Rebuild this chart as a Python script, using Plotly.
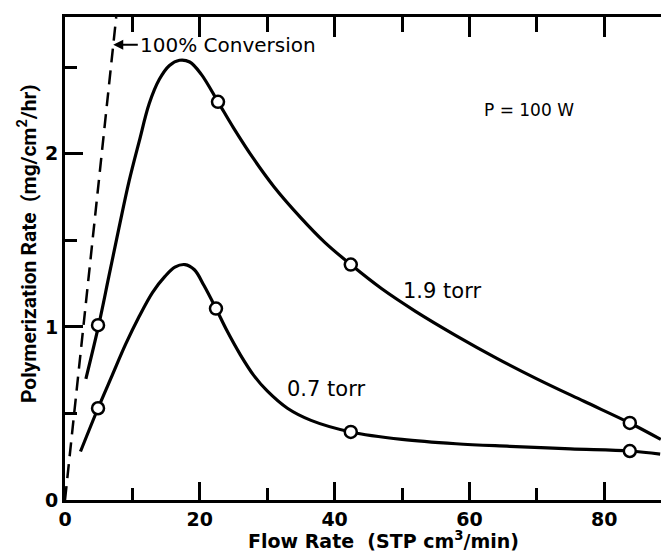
import plotly.graph_objects as go

# ---- data ----
# 1.9 torr smooth curve
c19_x = [3.1, 5.0, 6.5, 8.0, 9.5, 11.0, 12.5, 14.0, 15.5, 17.0, 18.5, 20.2, 22.7, 25.0, 28.0,
         31.0, 35.0, 38.5, 42.4, 47.0, 52.0, 58.0, 64.0, 70.0, 77.0, 83.8, 88.4]
c19_y = [0.70, 1.01, 1.29, 1.57, 1.84, 2.07, 2.29, 2.43, 2.51, 2.54, 2.53, 2.46, 2.30, 2.15, 1.97,
         1.81, 1.63, 1.49, 1.36, 1.22, 1.09, 0.95, 0.82, 0.70, 0.57, 0.445, 0.35]
# 1.9 torr measured points
p19_x = [4.9, 22.7, 42.4, 83.8]
p19_y = [1.01, 2.30, 1.36, 0.445]

# 0.7 torr smooth curve
c07_x = [2.3, 4.9, 7.0, 9.0, 11.0, 13.0, 14.8, 16.3, 17.8, 19.2, 20.6, 22.4, 24.0, 26.0, 28.0,
         30.0, 33.0, 36.5, 42.4, 50.0, 58.0, 66.0, 75.0, 83.8, 88.3]
c07_y = [0.28, 0.53, 0.72, 0.90, 1.06, 1.20, 1.29, 1.345, 1.36, 1.33, 1.24, 1.106, 0.98, 0.84, 0.72,
         0.63, 0.53, 0.46, 0.393, 0.35, 0.325, 0.31, 0.295, 0.283, 0.265]
# 0.7 torr measured points
p07_x = [4.9, 22.4, 42.4, 83.8]
p07_y = [0.53, 1.106, 0.393, 0.283]

# 100 % conversion line
conv_x = [0.0, 7.6]
conv_y = [0.0, 2.79]

x_ticks = [0, 20, 40, 60, 80]
y_ticks = [0, 1, 2]

FONT = "DejaVu Sans"
BLK = "black"

fig = go.Figure()
fig.add_trace(go.Scatter(x=conv_x, y=conv_y, mode="lines",
                         line=dict(color=BLK, width=2.5, dash="14px,8px")))
fig.add_trace(go.Scatter(x=c19_x, y=c19_y, mode="lines",
                         line=dict(color=BLK, width=3.2, shape="spline", smoothing=1.0)))
fig.add_trace(go.Scatter(x=c07_x, y=c07_y, mode="lines",
                         line=dict(color=BLK, width=3.2, shape="spline", smoothing=1.0)))
for px_, py_ in ((p19_x, p19_y), (p07_x, p07_y)):
    fig.add_trace(go.Scatter(x=px_, y=py_, mode="markers",
                             marker=dict(symbol="circle", size=12, color="white",
                                         line=dict(color=BLK, width=2.5))))
# invisible trace on mirrored axes
fig.add_trace(go.Scatter(x=conv_x, y=conv_y, xaxis="x2", yaxis="y2", mode="lines",
                         line=dict(color="rgba(0,0,0,0)"), hoverinfo="skip"))

XR = [0, 90.8]
YR = [0, 2.79]
tickfont = dict(family=FONT, size=19, color=BLK, weight="bold")

fig.update_layout(
    width=669, height=551,
    margin=dict(l=57, r=0, t=9, b=59),
    paper_bgcolor="white", plot_bgcolor="white",
    showlegend=False,
    xaxis=dict(range=XR, tickvals=x_ticks, ticks="inside", ticklen=18, tickwidth=2.5,
               tickcolor=BLK, showline=True, linewidth=3, linecolor=BLK, showgrid=False,
               zeroline=False, tickfont=tickfont, ticklabelstandoff=0,
               minor=dict(ticks="inside", ticklen=12, tickwidth=2.5, tickcolor=BLK,
                          dtick=10, tick0=0, showgrid=False)),
    yaxis=dict(range=YR, tickvals=y_ticks, ticks="inside", ticklen=18, tickwidth=2.5,
               tickcolor=BLK, showline=True, linewidth=3, linecolor=BLK, showgrid=False,
               zeroline=False, tickfont=tickfont,
               minor=dict(ticks="inside", ticklen=12, tickwidth=2.5, tickcolor=BLK,
                          dtick=0.5, tick0=0, showgrid=False)),
    xaxis2=dict(range=XR, overlaying="x", side="top", anchor="y", tickvals=x_ticks,
                ticks="inside", ticklen=20, tickwidth=2.5, tickcolor=BLK,
                showticklabels=False, showline=True, linewidth=3, linecolor=BLK,
                showgrid=False, zeroline=False,
                minor=dict(ticks="inside", ticklen=15, tickwidth=2.5, tickcolor=BLK,
                           dtick=10, tick0=0, showgrid=False)),
    yaxis2=dict(range=YR, overlaying="y", side="right", anchor="x", tickvals=y_ticks,
                ticks="inside", ticklen=15, tickwidth=2.5, tickcolor=BLK,
                showticklabels=False, showline=False, showgrid=False, zeroline=False,
                minor=dict(ticks="inside", ticklen=10, tickwidth=2.5, tickcolor=BLK,
                           dtick=0.5, tick0=0, showgrid=False)),
)

# axis titles (placed as annotations for exact position)
fig.add_annotation(xref="paper", yref="paper", x=0.52, y=-0.083, yanchor="middle",
                   text="Flow Rate  (STP cm<sup>3</sup>/min)", showarrow=False,
                   font=dict(family=FONT, size=19, color=BLK, weight="bold"))
fig.add_annotation(xref="paper", yref="paper", x=-0.062, y=0.53, xanchor="center",
                   yanchor="middle", textangle=-90,
                   text="Polymerization Rate  (mg/cm<sup>2</sup>/hr)", showarrow=False,
                   font=dict(family="Roboto", size=21, color=BLK, weight="bold"))

afont = dict(family=FONT, size=20, color=BLK)
fig.add_annotation(x=7.16, y=2.63, ax=10.8, ay=2.63, axref="x", ayref="y",
                   text="100% Conversion", xanchor="left", showarrow=True,
                   arrowhead=2, arrowsize=1, arrowwidth=2, arrowcolor=BLK, font=afont)
fig.add_annotation(x=68.8, y=2.25, text="P = 100 W", showarrow=False,
                   font=dict(family=FONT, size=17, color=BLK))
fig.add_annotation(x=56.0, y=1.21, text="1.9 torr", showarrow=False,
                   font=dict(family=FONT, size=21, color=BLK))
fig.add_annotation(x=38.7, y=0.64, text="0.7 torr", showarrow=False,
                   font=dict(family=FONT, size=21, color=BLK))

fig.write_html("out.html")
